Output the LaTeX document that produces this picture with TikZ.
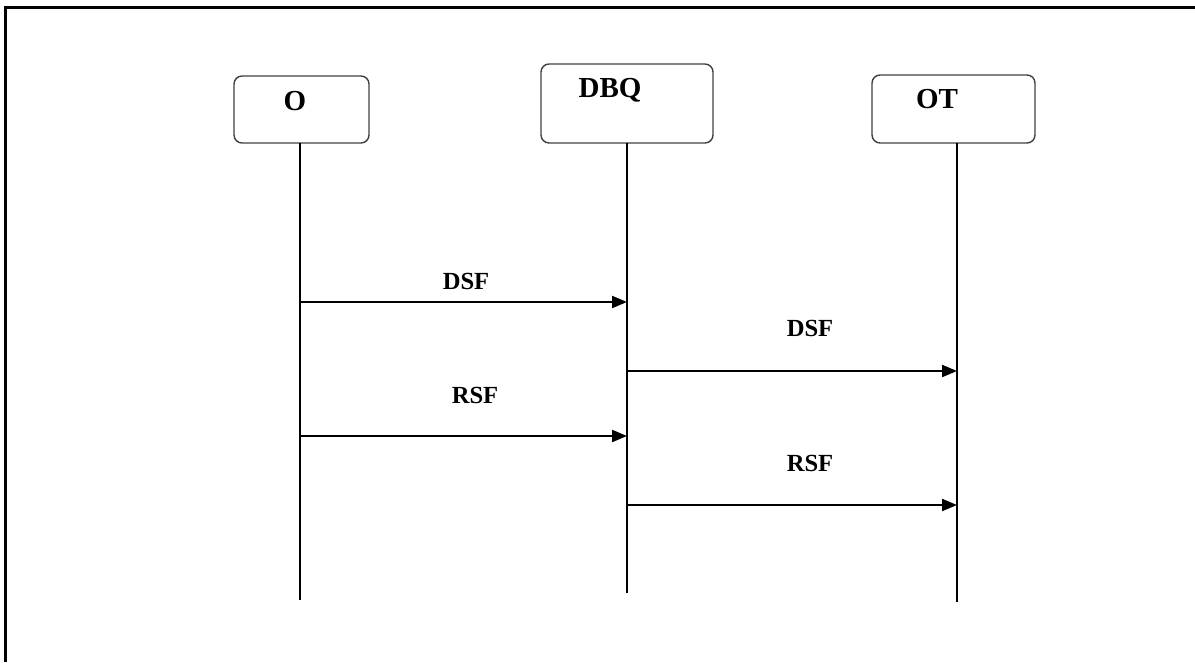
\documentclass[tikz,border=0pt]{standalone}
\usepackage{fontspec}
\setmainfont{Liberation Serif}
\usetikzlibrary{arrows.meta}
\begin{document}
\begin{tikzpicture}
        [x=0.02cm,y=-0.02cm,
        boxdecorate/.style={shape=rectangle,draw=black!75,line width=0.8pt,rounded corners=0.16cm,inner sep=0pt},%
        lifedecorate/.style={-,line width=1.2pt,black},%
        arrowdecorate/.style={-{Triangle[length=0.3cm,width=0.24cm]},line width=1.2pt},%
        textdecorate/.style={font=\bfseries\fontsize{14}{16}\selectfont,inner sep=1pt},%
        titledecorate/.style={font=\bfseries\fontsize{16.5}{19}\selectfont,inner sep=1pt}]
        \useasboundingbox (0,0) rectangle (1195,662);
        %% frame
        \draw[line width=1.6pt] (5.5,662) -- (5.5,7.5) -- (1195,7.5);
        %% objects and lifelines
        \foreach \nodename/\x/\y/\w/\h/\tx/\ty/\lx/\bottom in {O/301.5/109.5/2.7/1.34/295/101/300/600,
          DBQ/627/103.5/3.44/1.58/610/90/627/593, OT/953.5/109/3.26/1.36/937/99/957/602}
        {
          \node (\nodename) at (\x,\y) [boxdecorate,minimum width=\w cm,minimum height=\h cm] {};
          \node (\nodename-t) at (\tx,\ty) [titledecorate] {\nodename};
          \coordinate (\nodename-top) at (\lx,143);
          \coordinate (\nodename-end) at (\lx,\bottom);
          \draw[lifedecorate] (\nodename-top) -- (\nodename-end);
        }
        %% messages
        \foreach \msg/\startnode/\endnode/\y/\label/\lx/\ly in {m1/O/DBQ/302/DSF/466/281,
          m2/DBQ/OT/371/DSF/810/328, m3/O/DBQ/436/RSF/475/395, m4/DBQ/OT/505/RSF/810/463}
        {
          \coordinate (\msg-a) at (\startnode-top |- 0,\y);
          \coordinate (\msg-b) at (\endnode-top |- 0,\y);
          \draw[arrowdecorate] (\msg-a) -- (\msg-b);
          \node (\msg-t) at (\lx,\ly) [textdecorate] {\label};
        }
      \end{tikzpicture}
\end{document}
